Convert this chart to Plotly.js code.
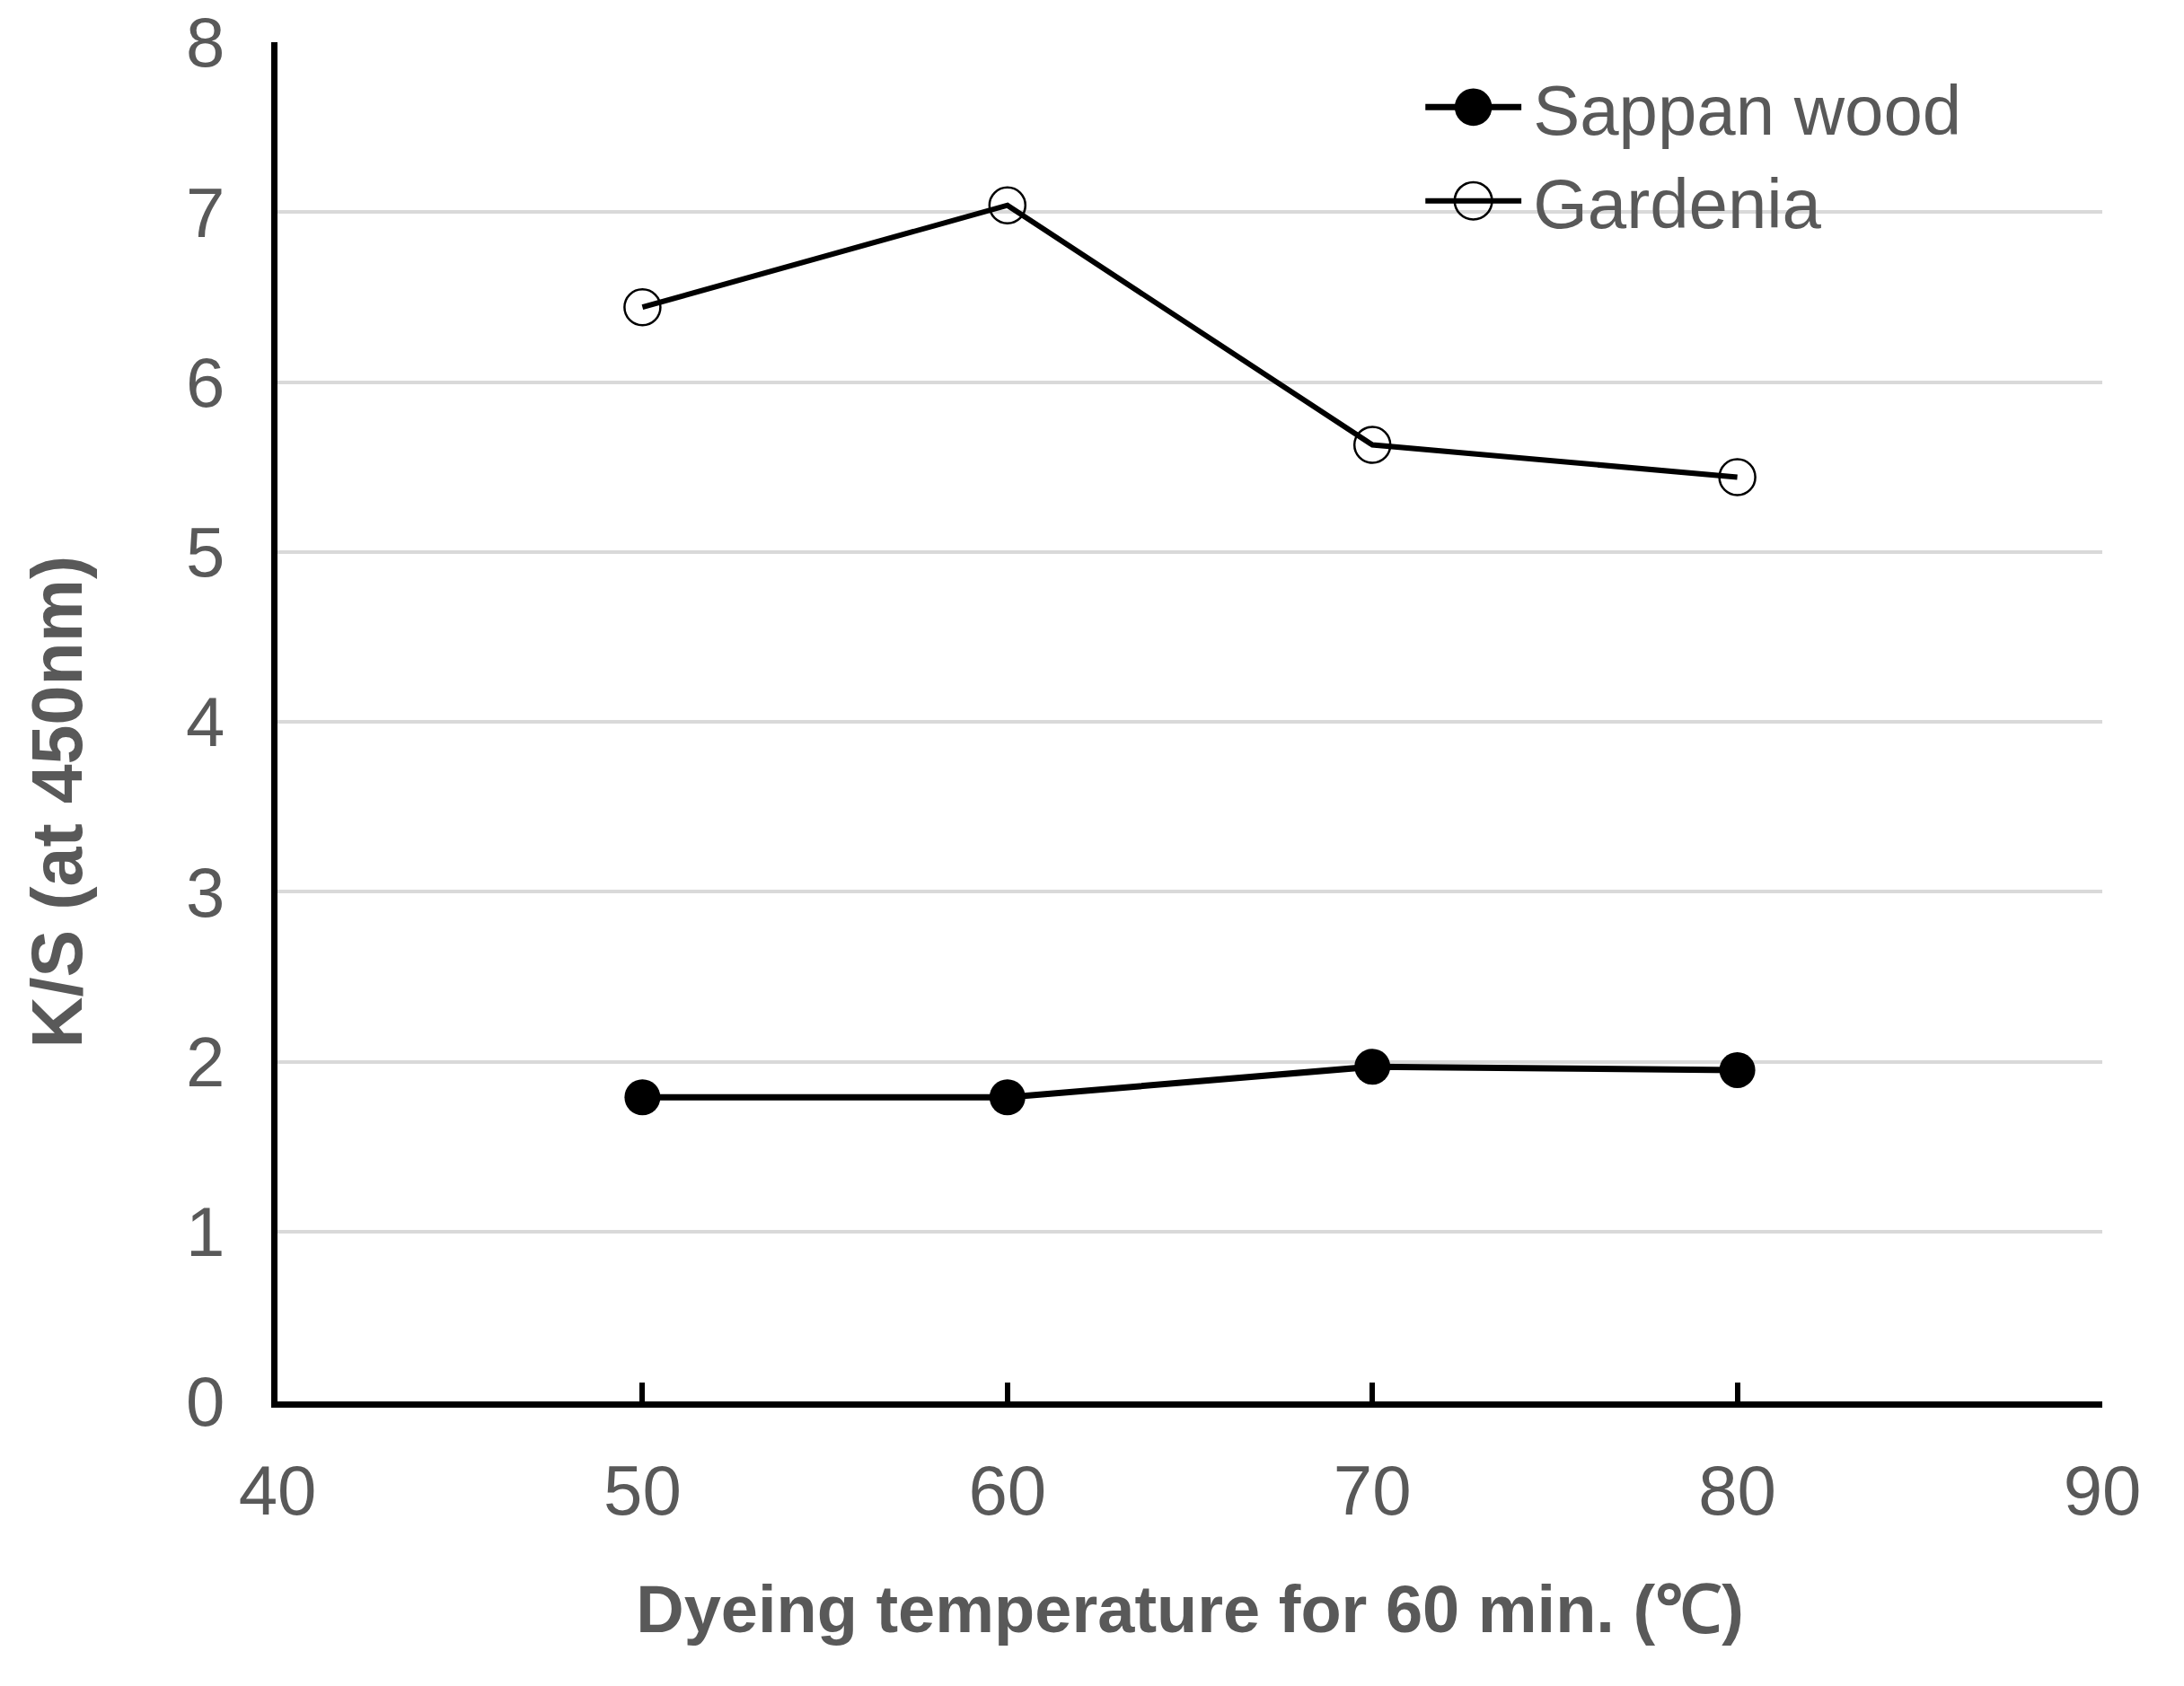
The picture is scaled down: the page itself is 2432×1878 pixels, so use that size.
<!DOCTYPE html>
<html>
<head>
<meta charset="utf-8">
<script src="https://cdn.plot.ly/plotly-3.0.1.min.js"></script>
<style>html,body{margin:0;padding:0;background:#fff;}#chart{width:2432px;height:1878px;}</style>
</head>
<body>
<div id="chart"></div>
<script>
const temperatures = [50, 60, 70, 80];
const sappanWood = [1.79, 1.79, 1.97, 1.95];
const gardenia = [6.44, 7.04, 5.63, 5.44];
const xTicks = [40, 50, 60, 70, 80, 90];
const yTicks = [0, 1, 2, 3, 4, 5, 6, 7, 8];
const xTitle = 'Dyeing temperature for 60 min. (℃)';
const yTitle = 'K/S (at 450nm)';

const gray = '#595959';
const tickFont = {family: 'Liberation Sans, Arial, sans-serif', size: 78, color: gray};
const titleFontX = {family: 'Liberation Sans, Arial, sans-serif', size: 74, color: gray, weight: 700};
const titleFontY = {family: 'Liberation Sans, Arial, sans-serif', size: 79, color: gray, weight: 700};

const traces = [
  {
    x: temperatures, y: sappanWood, name: 'Sappan wood', type: 'scatter', mode: 'lines+markers',
    line: {color: '#000', width: 7},
    marker: {symbol: 'circle', size: 40, color: '#000', line: {color: '#000', width: 0}}
  },
  {
    x: temperatures, y: gardenia, name: 'Gardenia', type: 'scatter', mode: 'lines+markers',
    line: {color: '#000', width: 6},
    marker: {symbol: 'circle-open', size: 40, color: '#000', line: {color: '#000', width: 2.5}}
  }
];

const layout = {
  width: 2432, height: 1878,
  paper_bgcolor: '#fff', plot_bgcolor: '#fff',
  margin: {l: 309, r: 91, t: 47, b: 317, pad: 0},
  showlegend: true,
  legend: {
    x: 0.629, xanchor: 'left', y: 0.990, yanchor: 'top',
    itemwidth: 110,
    font: {family: 'Liberation Sans, Arial, sans-serif', size: 78, color: gray},
    bgcolor: 'rgba(0,0,0,0)', borderwidth: 0, tracegroupgap: 0
  },
  xaxis: {
    range: [40, 90], tickmode: 'array', tickvals: xTicks, ticktext: xTicks.map(String),
    showgrid: false, zeroline: false,
    showline: true, linecolor: '#000', linewidth: 7,
    ticks: 'inside', ticklen: 21, tickwidth: 6, tickcolor: '#000',
    tickfont: tickFont, ticklabelstandoff: 25,
    title: {text: xTitle, font: titleFontX, standoff: 66},
    automargin: false
  },
  yaxis: {
    range: [0, 8], tickmode: 'array', tickvals: yTicks, ticktext: yTicks.map(String),
    showgrid: true, gridcolor: '#d9d9d9', gridwidth: 4,
    zeroline: false,
    showline: true, linecolor: '#000', linewidth: 7,
    ticks: '', tickfont: tickFont, ticklabelstandoff: 36,
    automargin: false
  },
  annotations: [{
    text: yTitle, textangle: -90, font: titleFontY,
    xref: 'paper', yref: 'paper', x: -0.121, y: 0.441,
    xanchor: 'center', yanchor: 'middle', showarrow: false
  }]
};

Plotly.newPlot('chart', traces, layout, {displayModeBar: false, staticPlot: true}).then(function (gd) {
  // enlarge the legend symbols to match the reference's long line and large markers
  gd.querySelectorAll('.legend .traces').forEach(function (tr) {
    tr.querySelectorAll('path.js-line').forEach(function (p) { p.setAttribute('d', 'M0,0h107'); });
    tr.querySelectorAll('path.scatterpts').forEach(function (p) {
      p.setAttribute('transform', 'translate(53.5,0) scale(2.6)');
      p.style.strokeWidth = '1px';
    });
  });
});
</script>
</body>
</html>
